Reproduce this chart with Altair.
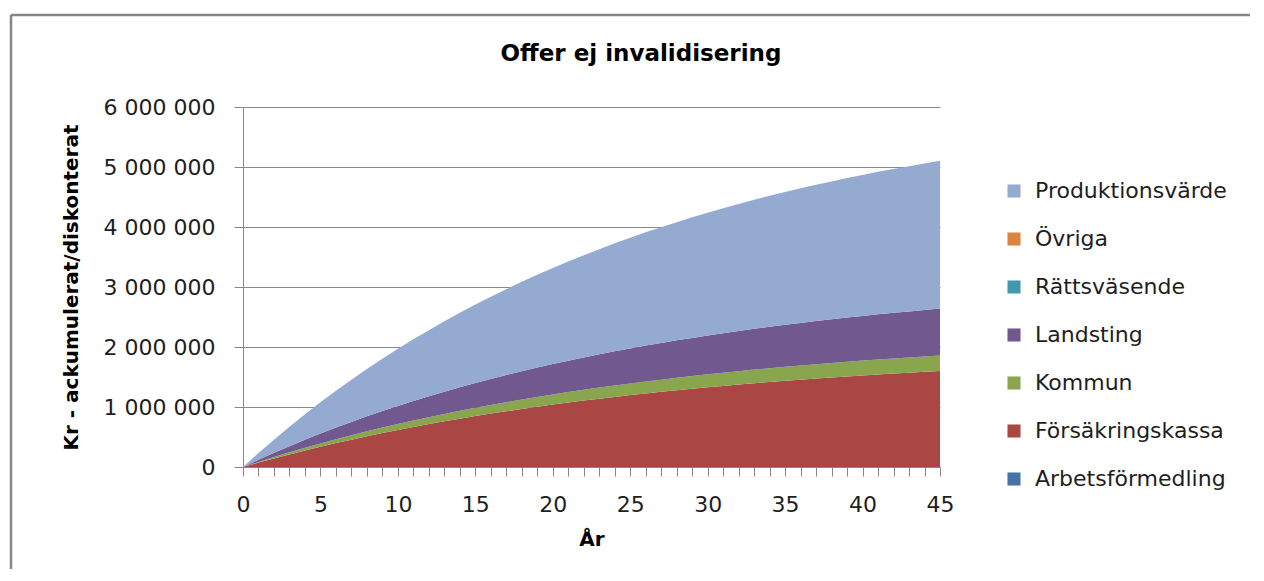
import altair as alt
import pandas as pd

years = list(range(46))

series_names = ["Arbetsförmedling", "Försäkringskassa", "Kommun", "Landsting",
                "Rättsväsende", "Övriga", "Produktionsvärde"]
legend_order = ["Produktionsvärde", "Övriga", "Rättsväsende", "Landsting",
                "Kommun", "Försäkringskassa", "Arbetsförmedling"]
colors = {"Produktionsvärde": "#94aad0", "Övriga": "#db843d", "Rättsväsende": "#4198af",
          "Landsting": "#71588f", "Kommun": "#89a54e", "Försäkringskassa": "#aa4643",
          "Arbetsförmedling": "#4572a7"}
chart_title = "Offer ej invalidisering"

# values in thousands of kronor, accumulated/discounted, per year 0..45
arbetsformedling = [0] * 46
forsakringskassa = [0, 73, 143, 210, 275, 338, 398, 456, 512, 566, 617, 667, 715, 761, 806, 849,
                    890, 929, 968, 1004, 1040, 1074, 1107, 1138, 1168, 1198, 1226, 1253, 1279, 1304,
                    1328, 1352, 1374, 1396, 1417, 1437, 1456, 1474, 1492, 1509, 1526, 1542, 1557,
                    1572, 1586, 1600]
kommun = [0, 12, 23, 34, 45, 55, 65, 74, 83, 92, 100, 108, 116, 124, 131, 138, 144, 151, 157,
          163, 169, 174, 180, 185, 190, 194, 199, 203, 208, 212, 216, 219, 223, 227, 230, 233,
          236, 239, 242, 245, 248, 250, 253, 255, 257, 260]
landsting = [0, 36, 70, 103, 134, 165, 194, 222, 250, 276, 301, 325, 349, 371, 393, 414, 434,
             453, 472, 490, 507, 523, 539, 555, 570, 584, 598, 611, 624, 636, 648, 659, 670, 680,
             690, 700, 710, 719, 727, 736, 744, 752, 759, 766, 773, 780]
rattsvasende = [0] * 46
ovriga = [0] * 46
produktionsvarde = [0, 112, 220, 324, 424, 521, 613, 703, 789, 871, 951, 1028, 1101, 1173, 1241,
                    1307, 1370, 1431, 1490, 1547, 1601, 1654, 1704, 1753, 1800, 1845, 1888, 1930,
                    1970, 2009, 2046, 2082, 2116, 2150, 2182, 2212, 2242, 2271, 2298, 2325, 2350,
                    2375, 2398, 2421, 2443, 2464]

series_values = [arbetsformedling, forsakringskassa, kommun, landsting,
                 rattsvasende, ovriga, produktionsvarde]

y_ticks = [0, 1000000, 2000000, 3000000, 4000000, 5000000, 6000000]
x_ticks = list(range(46))

rows = []
for idx, (name, vals) in enumerate(zip(series_names, series_values)):
    for yr, v in zip(years, vals):
        rows.append({"year": yr, "value": v * 1000, "serie": name, "idx": idx})
df = pd.DataFrame(rows)

FONT = "DejaVu Sans"
GRID = "#888888"
TXT = "#1e1e1e"

areas = alt.Chart(df).mark_area(interpolate="linear").encode(
    x=alt.X("year:Q",
            scale=alt.Scale(domain=[0, 45], nice=False),
            axis=alt.Axis(values=x_ticks,
                          labelExpr="datum.value % 5 === 0 ? datum.label : ''",
                          labelOverlap=False, labelFlush=False,
                          labelFontSize=22, labelFont=FONT, labelColor=TXT,
                          labelPadding=18, tickSize=9, tickColor=GRID,
                          domainColor=GRID, grid=False,
                          title="År", titleFont=FONT, titleFontSize=20,
                          titleFontWeight="bold", titleColor="#000000",
                          titlePadding=14)),
    y=alt.Y("value:Q", stack="zero",
            scale=alt.Scale(domain=[0, 6000000], nice=False),
            axis=alt.Axis(values=y_ticks,
                          labelExpr="replace(format(datum.value, ','), regexp(',', 'g'), ' ')",
                          labelFlush=False,
                          labelFontSize=22, labelFont=FONT, labelColor=TXT,
                          labelPadding=19, tickSize=9, tickColor=GRID,
                          domainColor=GRID, grid=True, gridColor=GRID, gridWidth=1,
                          title="Kr - ackumulerat/diskonterat", titleFont=FONT,
                          titleFontSize=20, titleFontWeight="bold", titleColor="#000000",
                          titlePadding=22)),
    color=alt.Color("serie:N",
                    scale=alt.Scale(domain=legend_order,
                                    range=[colors[n] for n in legend_order]),
                    legend=alt.Legend(title=None, orient="none", legendX=760, legendY=73,
                                      symbolType="square", symbolSize=170,
                                      symbolStrokeWidth=0, labelFont=FONT,
                                      labelFontSize=22, labelColor=TXT, labelOffset=10,
                                      labelLimit=400, rowPadding=26, padding=0)),
    order=alt.Order("idx:Q", sort="ascending"),
)

one = alt.Data(values=[{}])

title_mark = alt.Chart(one).mark_text(
    text=chart_title, font=FONT, fontSize=23, fontWeight="bold", color="#000000",
    align="center", baseline="alphabetic").encode(x=alt.value(398), y=alt.value(-46))

frame_top = alt.Chart(one).mark_rule(color="#868686", strokeWidth=2.5).encode(
    x=alt.value(-232), x2=alt.value(1007), y=alt.value(-92), y2=alt.value(-92))
frame_left = alt.Chart(one).mark_rule(color="#868686", strokeWidth=2.5).encode(
    x=alt.value(-232), x2=alt.value(-232), y=alt.value(-92), y2=alt.value(462))

chart = alt.layer(areas, title_mark, frame_top, frame_left).properties(
    width=697, height=360,
    padding={"left": 1, "top": 5, "right": 0, "bottom": 0},
).configure_view(stroke=None)

chart.save("out.html", embed_options={"renderer": "svg", "actions": False})
